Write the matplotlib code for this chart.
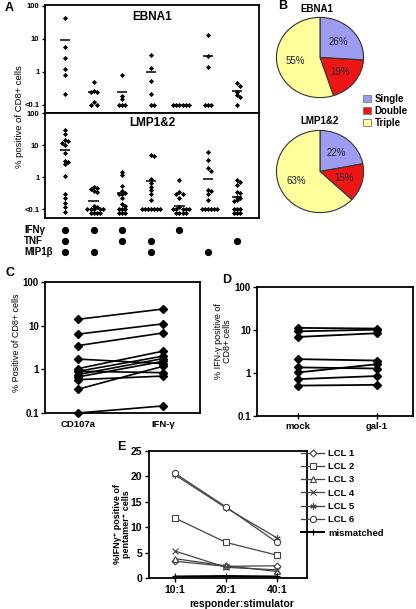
import numpy as np
import matplotlib
matplotlib.use('Agg')
import matplotlib.pyplot as plt
from matplotlib.patches import Patch

plt.rcParams['font.family'] = ['Liberation Sans', 'DejaVu Sans']
plt.rcParams['font.weight'] = 'bold'
plt.rcParams['axes.linewidth'] = 1.3

# ---------------- data ----------------
# panel A: % positive of CD8+ cells per cytokine combination (7 columns)
ebna1_vals = [
    [42, 5.6, 2.7, 1.23, 0.83, 0.21],
    [0.5, 0.27, 0.25, 0.25, 0.12, 0.1, 0.1],
    [0.83, 0.19, 0.15, 0.1, 0.1, 0.1],
    [3.3, 1.35, 0.52, 0.21, 0.1, 0.1],
    [0.1, 0.1, 0.1, 0.1, 0.1, 0.1],
    [13, 3.0, 1.45, 0.1, 0.1, 0.1],
    [0.45, 0.38, 0.25, 0.2, 0.17, 0.1],
]
ebna1_mean = [9.5, 0.24, 0.24, 1.0, 0.1, 3.0, 0.27]

lmp_vals = [
    [30, 22, 14, 13, 12, 10, 5.5, 3.3, 3.0, 2.6, 1.1, 0.3, 0.22, 0.16, 0.12, 0.085],
    [0.5, 0.48, 0.42, 0.38, 0.36, 0.13, 0.12, 0.1, 0.1, 0.1, 0.1, 0.1, 0.08, 0.08, 0.08, 0.08],
    [1.5, 1.2, 0.55, 0.38, 0.33, 0.3, 0.3, 0.22, 0.15, 0.13, 0.1, 0.1, 0.1, 0.08, 0.08, 0.08],
    [4.8, 4.5, 0.9, 0.65, 0.5, 0.4, 0.3, 0.19, 0.1, 0.1, 0.1, 0.1, 0.1, 0.1, 0.1],
    [0.8, 0.34, 0.3, 0.3, 0.22, 0.12, 0.1, 0.1, 0.1, 0.1, 0.1, 0.08, 0.08, 0.08, 0.08],
    [6.2, 3.4, 1.9, 1.55, 0.4, 0.37, 0.3, 0.19, 0.1, 0.1, 0.1, 0.1, 0.1, 0.1],
    [0.82, 0.72, 0.56, 0.36, 0.33, 0.25, 0.22, 0.2, 0.18, 0.1, 0.1, 0.1, 0.08, 0.08, 0.08],
]
lmp_mean = [7.0, 0.18, 0.32, 0.79, 0.13, 0.89, 0.24]

cytokines = ['IFNγ', 'TNF', 'MIP1β']
cyto_table = [
    [1, 1, 1, 0, 1, 0, 0],
    [1, 0, 1, 1, 0, 0, 1],
    [1, 1, 0, 1, 0, 1, 0],
]

# panel B: pies
pie_labels = ['Single', 'Double', 'Triple']
pie_ebna1 = [26, 19, 55]
pie_lmp = [22, 15, 63]
pie_colors = ['#9c9cf0', '#ee1515', '#ffff9c']

# panel C
c_labels = ['CD107a', 'IFN-γ']
c_cd107a = [14, 6.4, 3.5, 1.72, 1.04, 0.9, 0.9, 0.76, 0.67, 0.58, 0.35, 0.1]
c_ifng = [24, 11, 6.8, 1.35, 2.6, 2.0, 0.84, 1.76, 1.52, 0.7, 1.17, 0.145]

# panel D
d_labels = ['mock', 'gal-1']
d_mock = [11.2, 9.3, 6.9, 2.1, 1.35, 1.03, 0.72, 0.51]
d_gal1 = [10.8, 10.2, 8.4, 1.95, 1.27, 1.6, 0.85, 0.53]

# panel E
e_ratios = ['10:1', '20:1', '40:1']
e_names = ['LCL 1', 'LCL 2', 'LCL 3', 'LCL 4', 'LCL 5', 'LCL 6', 'mismatched']
e_lcl1 = [3.3, 2.3, 2.4]
e_lcl2 = [11.8, 7.0, 4.5]
e_lcl3 = [3.8, 2.4, 1.3]
e_lcl4 = [5.3, 2.1, 1.6]
e_lcl5 = [20.3, 13.8, 7.9]
e_lcl6 = [20.6, 14.0, 7.0]
e_mism = [0.3, 0.4, 0.3]

# ---------------- layout helpers (pixel boxes) ----------------
W, H = 416, 609


def rect(l, t, r, b):
    return [l / W, 1 - b / H, (r - l) / W, (b - t) / H]


def swarm(vals, xc, px_x, px_y, size=3.1):
    # spread points with near-equal values sideways (beeswarm style)
    placed = []
    xs = []
    for v in vals:
        py = np.log10(v) * px_y
        k = 0
        while True:
            off = ((k + 1) // 2) * (1 if k % 2 else -1) * size
            if all((off - a) ** 2 + (py - b) ** 2 >= (size * 0.95) ** 2 for a, b in placed):
                break
            k += 1
        placed.append((off, py))
        xs.append(xc + off / px_x)
    return xs


fig = plt.figure(figsize=(W / 100, H / 100), dpi=100)

# ---------------- panel A ----------------
xlim_a = (-0.7, 6.78)
px_x_a = (259 - 45) / (xlim_a[1] - xlim_a[0])


def dot_panel(ax, vals, means, ylim, title, title_y, px_dec):
    ax.set_yscale('log')
    ax.set_ylim(*ylim)
    ax.set_xlim(*xlim_a)
    for i, col in enumerate(vals):
        xs = swarm(col, i, px_x_a, px_dec)
        ax.plot(xs, col, 'D', color='black', ms=2.6, mew=0, clip_on=False)
        ax.hlines(means[i], i - 0.18, i + 0.18, color='black', lw=1.1)
    ax.set_yticks([0.1, 1, 10, 100])
    ax.set_yticklabels(['<0.1', '1', '10', '100'])
    ax.minorticks_off()
    ax.set_xticks([])
    ax.tick_params(axis='y', labelsize=5.5, length=2.5, width=1, pad=1.5)
    ax.text(0.5, title_y, title, transform=ax.transAxes, ha='center', va='center', fontsize=8.5)


ax_e1 = fig.add_axes(rect(45, 5, 259, 113))
dot_panel(ax_e1, ebna1_vals, ebna1_mean, (0.057, 107), 'EBNA1', 0.89, 33)
ax_l = fig.add_axes(rect(45, 113, 259, 218))
dot_panel(ax_l, lmp_vals, lmp_mean, (0.054, 100), 'LMP1&2', 0.905, 32)

fig.text(20 / W, 1 - 117 / H, '% positive of CD8+ cells', rotation=90, ha='center', va='center',
         fontsize=6.8, fontweight='normal')

# cytokine combination grid under panel A
ax_g = fig.add_axes(rect(45, 224, 259, 257))
ax_g.set_xlim(*xlim_a)
ax_g.set_ylim(2.5, -0.57)
ax_g.axis('off')
for r, row in enumerate(cyto_table):
    cols = [i for i, on in enumerate(row) if on]
    ax_g.plot(cols, [r] * len(cols), 'o', color='black', ms=4.2, clip_on=False)
    ax_g.text((24 - 45) / 214, r, cytokines[r], transform=ax_g.get_yaxis_transform(),
              ha='left', va='center', fontsize=7)

# ---------------- panel B ----------------
def pie_panel(box, vals, title, title_xy):
    ax = fig.add_axes(rect(*box))
    wedges, texts, autotexts = ax.pie(vals, colors=pie_colors, startangle=90, counterclock=False,
                                      autopct='%d%%', pctdistance=0.58, radius=1,
                                      wedgeprops=dict(edgecolor='#333333', linewidth=0.8),
                                      textprops=dict(fontsize=7, fontweight='normal', color='#222233'))
    ax.set_aspect('auto')
    ax.set_xlim(-1.01, 1.01)
    ax.set_ylim(-1.01, 1.01)
    fig.text(title_xy[0] / W, 1 - title_xy[1] / H, title, ha='center', va='center', fontsize=7)


pie_panel((276, 17, 364, 98), pie_ebna1, 'EBNA1', (317, 9))
pie_panel((276, 130, 364, 213), pie_lmp, 'LMP1&2', (320, 121))

handles = [Patch(facecolor=c, edgecolor='#777777', linewidth=0.6) for c in pie_colors]
fig.legend(handles, pie_labels, loc='center left', bbox_to_anchor=(363 / W, 1 - 111 / H),
           frameon=False, fontsize=7, handlelength=0.8, handleheight=0.8, handletextpad=0.4,
           labelspacing=0.2, borderpad=0, borderaxespad=0)

# ---------------- panel C ----------------
ax_c = fig.add_axes(rect(45, 282, 200, 413))
for a, b in zip(c_cd107a, c_ifng):
    ax_c.plot([0, 1], [a, b], '-D', color='black', lw=1.2, ms=4, clip_on=False)
ax_c.set_yscale('log')
ax_c.set_ylim(0.1, 100)
ax_c.set_xlim(-0.39, 1.44)
ax_c.minorticks_off()
ax_c.set_yticks([0.1, 1, 10, 100])
ax_c.set_yticklabels(['0.1', '1', '10', '100'])
ax_c.set_xticks([0, 1])
ax_c.set_xticklabels(c_labels)
ax_c.tick_params(axis='y', labelsize=7, length=3, width=1, pad=1.5)
ax_c.tick_params(axis='x', labelsize=6.8, length=0, pad=5)
fig.text(17 / W, 1 - 343 / H, '% Positive of CD8+ cells', rotation=90, ha='center', va='center',
         fontsize=6.5, fontweight='normal')

# ---------------- panel D ----------------
ax_d = fig.add_axes(rect(257, 287, 413, 416))
for a, b in zip(d_mock, d_gal1):
    ax_d.plot([0, 1], [a, b], '-D', color='black', lw=1.3, ms=4, clip_on=False)
ax_d.set_yscale('log')
ax_d.set_ylim(0.1, 100)
ax_d.set_xlim(-0.52, 1.46)
ax_d.minorticks_off()
ax_d.set_yticks([0.1, 1, 10, 100])
ax_d.set_yticklabels(['0.1', '1', '10', '100'])
ax_d.set_xticks([0, 1])
ax_d.set_xticklabels(d_labels)
ax_d.tick_params(axis='y', labelsize=7, length=3, width=1, pad=1.5)
ax_d.tick_params(axis='x', labelsize=6.8, length=5, width=1, direction='inout', pad=2)
fig.text(223 / W, 1 - 341 / H, '% IFN-γ positive of\nCD8+ cells', rotation=90, ha='center',
         va='center', fontsize=6.5, fontweight='normal', linespacing=1.1)

# ---------------- panel E ----------------
ax_f = fig.add_axes(rect(149, 451, 307, 578))
x = np.arange(len(e_ratios))
series = [e_lcl1, e_lcl2, e_lcl3, e_lcl4, e_lcl5, e_lcl6, e_mism]
markers = ['D', 's', '^', 'x', (6, 2, 0), 'o', '+']
sizes = [3.5, 4.5, 4, 4.5, 4.5, 4.5, 5]
for vals, name, m, s in zip(series, e_names, markers, sizes):
    col = 'black' if name == 'mismatched' else '#444444'
    lw = 1.4 if name == 'mismatched' else 0.9
    ax_f.plot(x, vals, marker=m, color=col, lw=lw, ms=s, mfc='white', mew=0.8, label=name,
              clip_on=False)
ax_f.set_ylim(0, 25)
ax_f.set_xlim(-0.51, 2.59)
ax_f.set_yticks([0, 5, 10, 15, 20, 25])
ax_f.set_xticks(x)
ax_f.set_xticklabels(e_ratios)
ax_f.tick_params(labelsize=7.5, length=3, width=1, pad=2)
ax_f.legend(loc='upper left', bbox_to_anchor=(301 / W, 1 - 449 / H), bbox_transform=fig.transFigure,
            frameon=False, fontsize=6.8, handlelength=2.45, handletextpad=0.45, labelspacing=0.45,
            borderpad=0, borderaxespad=0)
fig.text(242 / W, 1 - 604 / H, 'responder:stimulator', ha='center', va='center', fontsize=7.5)
fig.text(122 / W, 1 - 524 / H, '%IFNγ⁺ positive of\npentamer⁺ cells', rotation=90, ha='center',
         va='center', fontsize=6.5, linespacing=1.1)

# ---------------- panel letters ----------------
for lab, px, py in [('A', 5, 8), ('B', 278, 6), ('C', 5, 273), ('D', 222, 280), ('E', 117, 447)]:
    fig.text(px / W, 1 - py / H, lab, fontsize=9, ha='left', va='center')

plt.savefig('out.png', dpi=100)
